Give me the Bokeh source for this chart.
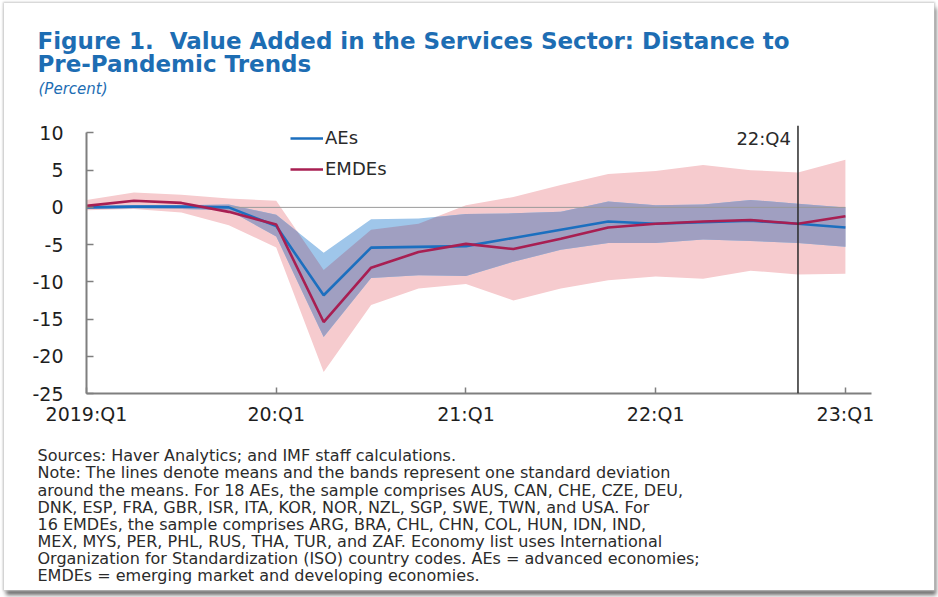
import numpy as np
from bokeh.plotting import figure
from bokeh.models import Range1d, FixedTicker, Label, Span, Legend, LegendItem, Title
from bokeh.embed import file_html
from bokeh.resources import INLINE

# ---------------- data ----------------
quarters = ["2019:Q1", "19:Q2", "19:Q3", "19:Q4", "20:Q1", "20:Q2", "20:Q3", "20:Q4",
            "21:Q1", "21:Q2", "21:Q3", "21:Q4", "22:Q1", "22:Q2", "22:Q3", "22:Q4", "23:Q1"]
tick_labels = ["2019:Q1", "20:Q1", "21:Q1", "22:Q1", "23:Q1"]
y_ticks = [-25, -20, -15, -10, -5, 0, 5, 10]
marker_quarter = "22:Q4"

aes_mean = [0.0, 0.1, 0.1, 0.0, -2.5, -11.8, -5.4, -5.3, -5.2, -4.1, -3.0, -1.9, -2.2, -2.0, -1.8, -2.2, -2.7]
aes_upper = [0.2, 0.3, 0.3, 0.4, -1.0, -6.1, -1.6, -1.5, -0.9, -0.8, -0.6, 0.8, 0.3, 0.4, 1.0, 0.5, 0.0]
aes_lower = [-0.2, -0.1, -0.2, -0.4, -3.9, -17.4, -9.5, -9.1, -9.2, -7.3, -5.7, -4.8, -4.8, -4.3, -4.5, -4.8, -5.3]

emdes_mean = [0.2, 0.9, 0.6, -0.6, -2.3, -15.4, -8.1, -6.0, -4.9, -5.6, -4.2, -2.7, -2.2, -1.9, -1.7, -2.2, -1.2]
emdes_upper = [1.0, 2.0, 1.7, 1.2, 0.9, -8.4, -3.0, -2.2, 0.3, 1.4, 3.0, 4.5, 4.9, 5.7, 5.0, 4.7, 6.4]
emdes_lower = [-0.4, -0.2, -0.7, -2.4, -5.4, -22.1, -13.1, -10.9, -10.3, -12.5, -10.9, -9.8, -9.3, -9.6, -8.5, -9.0, -8.9]

title_lines = ["Figure 1.\u00a0 Value Added in the Services Sector: Distance to",
               "Pre-Pandemic Trends"]
subtitle = "(Percent)"
note_lines = [
    "Sources: Haver Analytics; and IMF staff calculations.",
    "Note: The lines denote means and the bands represent one standard deviation",
    "around the means. For 18 AEs, the sample comprises AUS, CAN, CHE, CZE, DEU,",
    "DNK, ESP, FRA, GBR, ISR, ITA, KOR, NOR, NZL, SGP, SWE, TWN, and USA. For",
    "16 EMDEs, the sample comprises ARG, BRA, CHL, CHN, COL, HUN, IDN, IND,",
    "MEX, MYS, PER, PHL, RUS, THA, TUR, and ZAF. Economy list uses International",
    "Organization for Standardization (ISO) country codes. AEs = advanced economies;",
    "EMDEs = emerging market and developing economies.",
]

# ---------------- styling constants ----------------
FONT = "DejaVu Sans"
TITLE_COLOR = "#1d6db3"
TEXT_COLOR = "#2b2b2b"
AXIS_COLOR = "#7f7f7f"
W, H = 930, 587
ML, MR, MT, MB = 82, 63, 122, 197
TEXT_LEFT = -49   # text left edge relative to the frame's left edge

# ---------------- band overlap geometry ----------------
x = np.arange(len(quarters), dtype=float)
aU, aL = np.array(aes_upper), np.array(aes_lower)
eU, eL = np.array(emdes_upper), np.array(emdes_lower)
curves = [aU, aL, eU, eL]
bps = set(x.tolist())
for i in range(len(x) - 1):
    for a in range(4):
        for b in range(a + 1, 4):
            d0 = curves[a][i] - curves[b][i]
            d1 = curves[a][i + 1] - curves[b][i + 1]
            if d0 * d1 < 0:
                bps.add(x[i] + d0 / (d0 - d1))
xo = np.array(sorted(bps))
ov_hi = np.minimum(np.interp(xo, x, aU), np.interp(xo, x, eU))
ov_lo = np.maximum(np.interp(xo, x, aL), np.interp(xo, x, eL))
ov_hi = np.maximum(ov_hi, ov_lo)

# ---------------- figure ----------------
p = figure(width=W, height=H, output_backend="svg", toolbar_location=None, title=None,
           x_range=Range1d(0, 16.55), y_range=Range1d(-25, 11),
           min_border_left=ML, min_border_right=MR, min_border_top=MT, min_border_bottom=MB,
           background_fill_color="white", border_fill_color="white")
p.outline_line_color = None
p.xgrid.visible = False
p.ygrid.visible = False
p.styles = {"margin-left": "4px", "margin-top": "3px",
            "box-shadow": "0px 0px 2px 1px #c8c8c8, 2px 5px 4px #6a6a6a"}

xa = p.xaxis[0]
tick_idx = [quarters.index(t) for t in tick_labels]
xa.ticker = FixedTicker(ticks=tick_idx)
xa.major_label_overrides = {i: t for i, t in zip(tick_idx, tick_labels)}
xa.major_tick_in = 6
xa.major_tick_out = 0
xa.minor_tick_line_color = None
xa.axis_line_color = AXIS_COLOR
xa.axis_line_width = 2
xa.major_tick_line_color = AXIS_COLOR
xa.major_tick_line_width = 1.5
xa.major_label_text_font = FONT
xa.major_label_text_font_size = "19px"
xa.major_label_text_color = "#1e1e1e"
xa.major_label_standoff = 9

ya = p.yaxis[0]
ya.ticker = FixedTicker(ticks=y_ticks)
ya.major_label_overrides = {v: str(v) for v in y_ticks}
ya.bounds = (y_ticks[0], y_ticks[-1])
ya.major_tick_in = 7
ya.major_tick_out = 0
ya.minor_tick_line_color = None
ya.axis_line_color = AXIS_COLOR
ya.axis_line_width = 2
ya.major_tick_line_color = AXIS_COLOR
ya.major_tick_line_width = 1.5
ya.major_label_text_font = FONT
ya.major_label_text_font_size = "19px"
ya.major_label_text_color = "#1e1e1e"
ya.major_label_standoff = 23

# bands
p.varea(x=x, y1=eL, y2=eU, fill_color="#f6cbce")
p.varea(x=x, y1=aL, y2=aU, fill_color="#9fc6ea")
p.varea(x=xo, y1=ov_lo, y2=ov_hi, fill_color="#a09fc1")

# zero line
p.line(x=[x[0], x[-1]], y=[0, 0], line_color="#9a9a9a", line_width=1)

# mean lines
r_ae = p.line(x=x, y=aes_mean, line_color="#1c6fbf", line_width=2.6)
r_em = p.line(x=x, y=emdes_mean, line_color="#a81f52", line_width=2.6)

# marker line and its label
mq = quarters.index(marker_quarter)
p.add_layout(Span(location=mq, dimension="height", line_color="#2a2a2a", line_width=1.5))
p.add_layout(Label(x=mq, y=10, x_offset=-7, y_offset=-6, text=marker_quarter,
                   text_font=FONT, text_font_size="18px", text_color="#2a2a2a",
                   text_align="right", text_baseline="middle"))

# legend
leg = Legend(items=[LegendItem(label="AEs", renderers=[r_ae]),
                    LegendItem(label="EMDEs", renderers=[r_em])],
             location=(204, 214), orientation="vertical",
             glyph_width=33, glyph_height=16, label_height=16, label_standoff=2,
             spacing=10, padding=0, margin=0,
             border_line_alpha=0, background_fill_alpha=0,
             label_text_font=FONT, label_text_font_size="18px", label_text_color="#2a2a2a")
p.add_layout(leg)

# ---------------- titles (above) and notes (below) ----------------
# above panels stack outward from the frame: spacer, subtitle, title
p.add_layout(Title(text="\u00a0", standoff=25, text_font_size="1px"), "above")
p.add_layout(Title(text=subtitle, align="left", offset=TEXT_LEFT + 1, standoff=0,
                   text_font=FONT, text_font_size="15px", text_font_style="italic",
                   text_color=TITLE_COLOR), "above")
p.add_layout(Title(text="\n".join(title_lines), align="left", offset=TEXT_LEFT, standoff=0,
                   text_font=FONT, text_font_size="23px", text_font_style="bold",
                   text_color=TITLE_COLOR, text_line_height=0.917), "above")
# below panels stack outward from the frame: x axis, spacer, notes
p.add_layout(Title(text="\u00a0", standoff=14, text_font_size="1px"), "below")
p.add_layout(Title(text="\n".join(note_lines), align="left", offset=TEXT_LEFT, standoff=0,
                   text_font=FONT, text_font_size="16px", text_font_style="normal",
                   text_color=TEXT_COLOR, text_line_height=0.905), "below")

open("out.html", "w").write(file_html(p, INLINE))
